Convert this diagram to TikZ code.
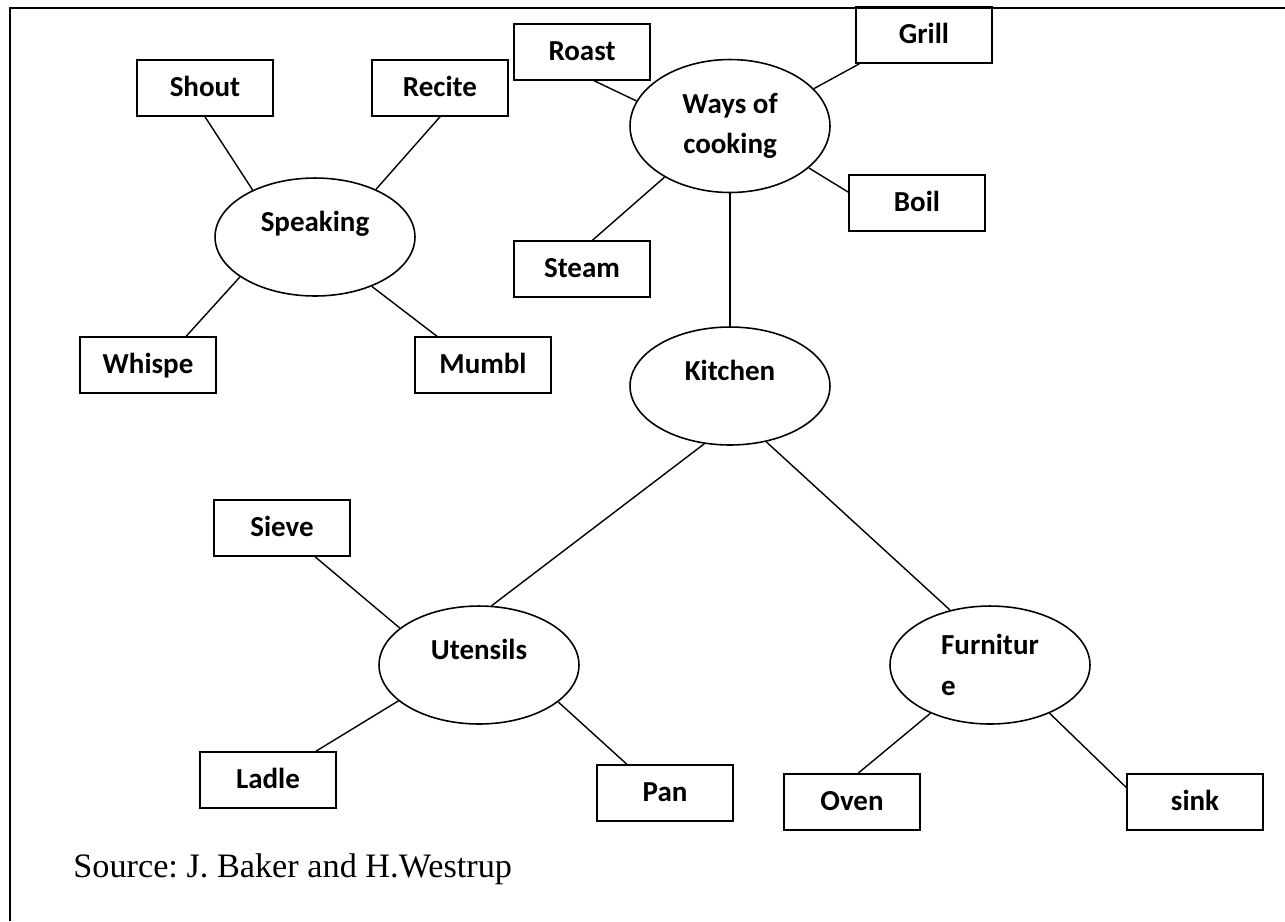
\documentclass[tikz,border=0pt]{standalone}
\usepackage{fontspec}
\setmainfont{Carlito}
\newfontfamily\srcfont{Liberation Serif}
\usetikzlibrary{shapes.geometric}
\frenchspacing
\tikzset{
  box/.style={draw, line width=0.9pt, rectangle, minimum width=2.72cm, minimum height=1.12cm, inner sep=0pt, text height=14pt, text depth=4pt, font=\bfseries\fontsize{16.5}{23}\selectfont},
  topic/.style={draw, line width=0.9pt, ellipse, minimum width=4cm, minimum height=2.36cm, inner sep=0pt, font=\bfseries\fontsize{16.5}{23}\selectfont},
  raised/.style={text height=12pt, text depth=18pt},
  link/.style={line width=0.8pt},
}

\begin{document}
\begin{tikzpicture}[x=0.02cm, y=-0.02cm]
\useasboundingbox (0,0) rectangle (1285,921);

% ── Frame ──
\draw[line width=1.5pt] (1285,8) -- (10,8) -- (10,921);

% ═══════════════════════════════════════════
% CLUSTER 1: Speaking
% ═══════════════════════════════════════════
\node[topic, raised] (speak) at (315,237) {Speaking};
\node[box] (shout) at (205,88) {Shout};
\node[box] (recite) at (440,88) {Recite};
\node[box] (whisper) at (148,365) {Whispe};
\node[box] (mumble) at (483,365) {Mumbl};

\draw[link] (speak.143) -- (shout.south);
\draw[link] (speak.38) -- (recite.south);
\draw[link] (speak.-152) -- (whisper.37);
\draw[link] (speak.-41) -- (mumble.148);

% ═══════════════════════════════════════════
% CLUSTER 2: Ways of cooking
% ═══════════════════════════════════════════
\node[topic, minimum height=2.66cm, align=center] (ways) at (730,126) {Ways of\\cooking};
\node[box] (roast) at (582,52) {Roast};
\node[box] (grill) at (924,35) {Grill};
\node[box] (boil) at (917,203) {Boil};
\node[box] (steam) at (582,269) {Steam};

\draw[link] (ways.165) -- (roast.-67);
\draw[link] (ways.24) -- (grill.-156);
\draw[link] (ways.-28) -- (boil.171);
\draw[link] (ways.-142) -- (steam.70);

% ═══════════════════════════════════════════
% CLUSTER 3: Kitchen tree
% ═══════════════════════════════════════════
\node[topic, raised] (kitchen) at (730,386) {Kitchen};
\draw[link] (ways.south) -- (kitchen.north);

\node[topic, raised] (utensils) at (479,665) {Utensils};
\node[topic, align=left] (furniture) at (990,665) {Furnitur\\e};
\draw[link] (kitchen.-114) -- (utensils.78);
\draw[link] (kitchen.-57) -- (furniture.126);

\node[box] (sieve) at (282,528) {Sieve};
\node[box] (ladle) at (268,780) {Ladle};
\node[box] (pan) at (665,793) {Pan};
\draw[link] (utensils.155) -- (sieve.-41);
\draw[link] (utensils.-156) -- (ladle.31);
\draw[link] (utensils.-25) -- (pan.143);

\node[box] (oven) at (852,802) {Oven};
\node[box] (sink) at (1195,802) {sink};
\draw[link] (furniture.-141) -- (oven.78);
\draw[link] (furniture.-39) -- (sink.168);

% ── Source ──
\node[anchor=base west, inner sep=0pt, font=\srcfont\fontsize{19.5}{23}\selectfont] (source) at (73,877) {Source: J. Baker and H.Westrup};

\end{tikzpicture}
\end{document}
